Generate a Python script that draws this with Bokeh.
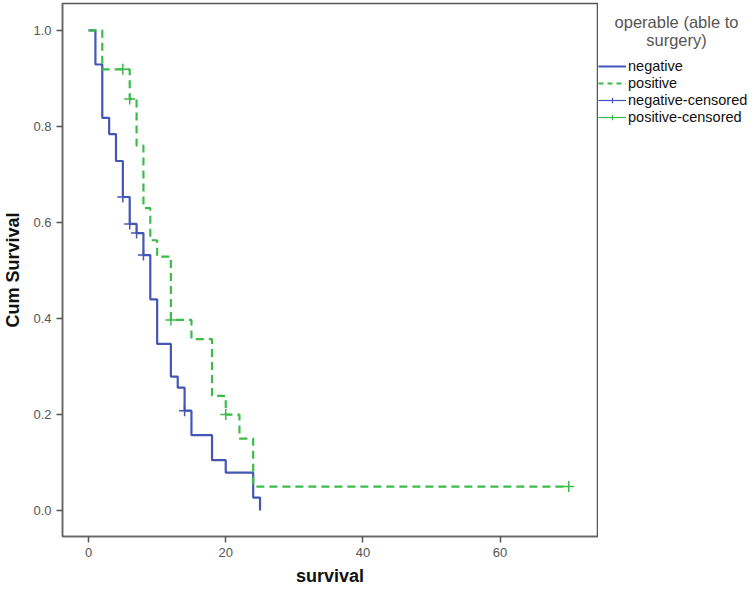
from bokeh.plotting import figure
from bokeh.layouts import row
from bokeh.models import Range1d, Legend, LegendItem, Label, FixedTicker
from bokeh.embed import file_html
from bokeh.resources import INLINE

# ---- data ----
neg_time = [0, 1, 2, 3, 4, 5, 6, 7, 8, 9, 10, 12, 13, 14, 15, 18, 20, 24, 25]
neg_surv = [1.0, 0.929, 0.818, 0.784, 0.728, 0.653, 0.597, 0.578, 0.532, 0.440,
            0.347, 0.279, 0.256, 0.208, 0.157, 0.105, 0.079, 0.027, 0.0]
pos_time = [0, 2, 6, 7, 8, 9, 10, 12, 15, 18, 20, 22, 24, 70]
pos_surv = [1.0, 0.919, 0.857, 0.760, 0.630, 0.563, 0.529, 0.397, 0.357,
            0.239, 0.200, 0.150, 0.050, 0.050]
neg_cens_time = [5, 6, 7, 8, 14]
neg_cens_surv = [0.653, 0.597, 0.578, 0.532, 0.208]
pos_cens_time = [5, 6, 12, 20, 70]
pos_cens_surv = [0.919, 0.857, 0.397, 0.200, 0.050]

x_ticks = [0, 20, 40, 60]
y_ticks = [0.0, 0.2, 0.4, 0.6, 0.8, 1.0]
legend_title = ["operable (able to", "surgery)"]
labels = ["negative", "positive", "negative-censored", "positive-censored"]

BLUE = "#4356B6"
GREEN = "#3DBB48"
FONT = "Liberation Sans"
H = 588
FRAME_H = 534

# ---------------- main plot ----------------
p = figure(width=598, height=H, output_backend="svg", toolbar_location=None,
           x_range=Range1d(-3.8, 74.2), y_range=Range1d(-0.054, 1.056),
           min_border_left=62, min_border_right=1, min_border_top=3,
           min_border_bottom=H - 537)
p.grid.visible = False
p.outline_line_color = "#555555"
p.outline_line_width = 1.5
p.background_fill_color = "white"
p.border_fill_color = "white"

for ax in (p.xaxis[0], p.yaxis[0]):
    ax.axis_line_color = "#666666"
    ax.axis_line_width = 1.5
    ax.major_tick_line_color = "#555555"
    ax.major_tick_line_width = 1.5
    ax.major_tick_out = 6
    ax.major_tick_in = 0
    ax.minor_tick_line_color = None
    ax.major_label_text_font = FONT
    ax.major_label_text_font_size = "13px"
    ax.major_label_text_color = "#555555"
    ax.major_label_standoff = 5
    ax.axis_label_text_font = FONT
    ax.axis_label_text_font_size = "18px"
    ax.axis_label_text_font_style = "bold"
    ax.axis_label_text_color = "#111111"

p.xaxis.ticker = FixedTicker(ticks=x_ticks)
p.yaxis.ticker = FixedTicker(ticks=y_ticks)
p.yaxis.major_label_overrides = {t: f"{t:.1f}" for t in y_ticks}
p.xaxis.axis_label = "survival"
p.yaxis.axis_label = "Cum Survival"
p.xaxis.axis_label_standoff = 6
p.yaxis.axis_label_standoff = 7

p.step(neg_time, neg_surv, mode="after", line_color=BLUE, line_width=2.2)
p.step(pos_time, pos_surv, mode="after", line_color=GREEN, line_width=2.2,
       line_dash="8 5")
p.scatter(neg_cens_time, neg_cens_surv, marker="cross", size=11,
          line_color=BLUE, line_width=1.5)
p.scatter(pos_cens_time, pos_cens_surv, marker="cross", size=11,
          line_color=GREEN, line_width=1.5)

# ---------------- legend panel ----------------
lg = figure(width=150, height=H, output_backend="svg", toolbar_location=None,
            x_range=Range1d(0, 150), y_range=Range1d(0, FRAME_H),
            x_axis_type=None, y_axis_type=None,
            min_border_left=0, min_border_right=0, min_border_top=3,
            min_border_bottom=H - 537)
lg.grid.visible = False
lg.outline_line_color = None
lg.border_fill_color = "white"

nan = [float("nan")]
l_neg = lg.step(nan, nan, line_color=BLUE, line_width=2)
l_pos = lg.step(nan, nan, line_color=GREEN, line_width=2, line_dash="5 4")
l_negc_line = lg.line(nan, nan, line_color=BLUE, line_width=1.2)
l_negc = lg.scatter(nan, nan, marker="cross", size=11, line_color=BLUE, line_width=1.2)
l_posc_line = lg.line(nan, nan, line_color=GREEN, line_width=1.2)
l_posc = lg.scatter(nan, nan, marker="cross", size=11, line_color=GREEN, line_width=1.2)

legend = Legend(items=[
    LegendItem(label=labels[0], renderers=[l_neg]),
    LegendItem(label=labels[1], renderers=[l_pos]),
    LegendItem(label=labels[2], renderers=[l_negc_line, l_negc]),
    LegendItem(label=labels[3], renderers=[l_posc_line, l_posc]),
], location=(0, 411), orientation="vertical")
legend.border_line_color = None
legend.background_fill_alpha = 0
legend.label_text_font = FONT
legend.label_text_font_size = "14.5px"
legend.label_text_color = "#111111"
legend.glyph_width = 28
legend.glyph_height = 14
legend.label_height = 14
legend.label_standoff = 2
legend.spacing = 1
legend.padding = 0
legend.margin = 0
lg.add_layout(legend)

lg.add_layout(Label(x=78, y=FRAME_H - 19, text=legend_title[0], text_align="center",
                    text_baseline="middle", text_font=FONT,
                    text_font_size="16.5px", text_color="#555555"))
lg.add_layout(Label(x=78, y=FRAME_H - 37, text=legend_title[1], text_align="center",
                    text_baseline="middle", text_font=FONT,
                    text_font_size="16.5px", text_color="#555555"))

layout = row(p, lg, spacing=0)
open("out.html", "w").write(file_html(layout, INLINE))
